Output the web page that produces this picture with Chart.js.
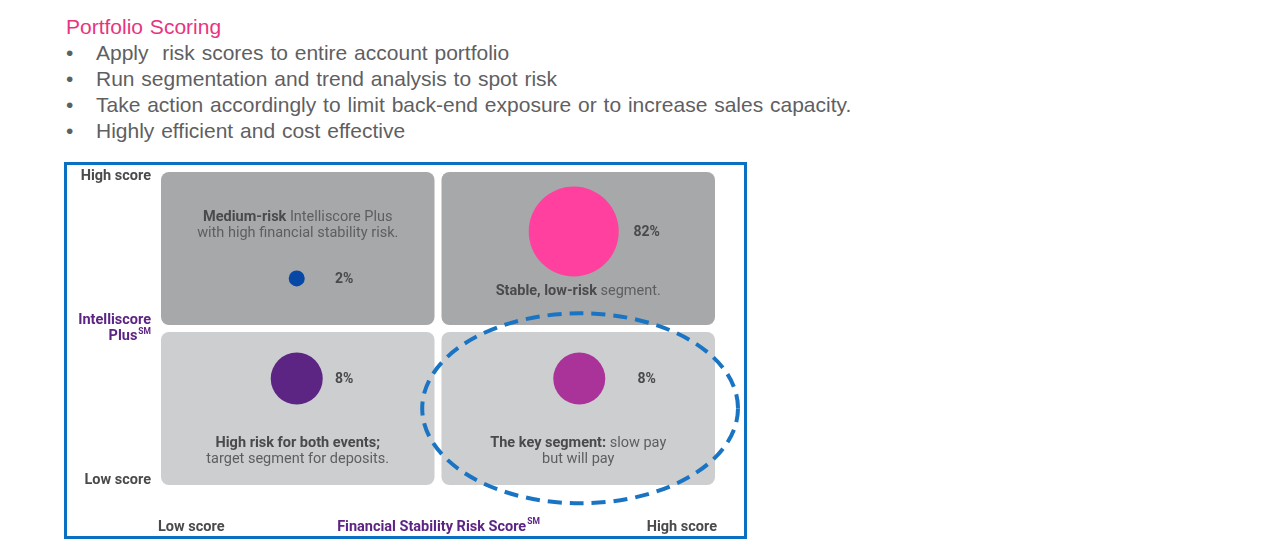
<!DOCTYPE html>
<html>
<head>
<meta charset="utf-8">
<script src="https://cdn.jsdelivr.net/npm/chart.js@4.4.1/dist/chart.umd.min.js"></script>
<style>
  body { margin: 0; background: #fff; width: 1280px; height: 559px; overflow: hidden; position: relative; }
  .head { position: absolute; left: 66px; top: 14px; font-family: "Liberation Sans", Arial, sans-serif; font-size: 21px; line-height: 26px; color: #5F5F62; word-spacing: 1px; }
  .head .title { color: #E8347F; }
  .head .b { display: inline-block; width: 30px; }
  .frame { position: absolute; left: 64px; top: 162px; width: 677px; height: 371px; border: 3px solid #0A70C2; }
  .frame canvas { display: block; }
</style>
</head>
<body>
<div class="head">
  <div class="title">Portfolio Scoring</div>
  <div><span class="b">•</span>Apply&nbsp; risk scores to entire account portfolio</div>
  <div><span class="b">•</span>Run segmentation and trend analysis to spot risk</div>
  <div><span class="b">•</span>Take action accordingly to limit back-end exposure or to increase sales capacity.</div>
  <div><span class="b">•</span>Highly efficient and cost effective</div>
</div>
<div class="frame"><canvas id="grid" width="677" height="371"></canvas></div>
<script>
// segments of the portfolio, one bubble each
const segments = ["Medium-risk", "Stable, low-risk", "High risk for both events", "The key segment"];
const shares = [2, 82, 8, 8]; // % of portfolio
const stabilityPos = [0.49, 1.49, 0.49, 1.51];   // x: Financial Stability Risk Score
const intelliPos = [1.32, 1.62, 0.68, 0.68];     // y: Intelliscore Plus
const scoreTicks = ["Low score", "High score"];

// styles
const bubbleColors = ["#0747A6", "#FF409E", "#5C2483", "#AA3399"];
const bubbleSizes = [8, 45, 26, 26];
const FONT = "Roboto, 'Noto Sans', sans-serif";
const FS = 14.5;

// rich text lines, bold part + normal part
const quadText = [
  { lines: [[["Medium-risk", true], [" Intelliscore Plus", false]], [["with high financial stability risk.", false]]], dy: 45 },
  { lines: [[["Stable, low-risk", true], [" segment.", false]]], dy: 119 },
  { lines: [[["High risk for both events;", true]], [["target segment for deposits.", false]]], dy: 111 },
  { lines: [[["The key segment:", true], [" slow pay", false]], [["but will pay", false]]], dy: 111 }
];

const drawRich = (ctx, parts, cx, y, size) => {
  let w = 0;
  parts.forEach(p => {
    ctx.font = (p[1] ? "bold " : "") + size + "px " + FONT;
    w += ctx.measureText(p[0]).width;
  });
  let x = cx - w / 2;
  parts.forEach(p => {
    ctx.font = (p[1] ? "bold " : "") + size + "px " + FONT;
    ctx.fillStyle = p[1] ? "#4A4A4D" : "#5E5E62";
    ctx.textAlign = "left";
    ctx.fillText(p[0], x, y);
    x += ctx.measureText(p[0]).width;
  });
};

const roundRect = (ctx, x, y, w, h, r) => {
  ctx.beginPath();
  ctx.moveTo(x + r, y);
  ctx.arcTo(x + w, y, x + w, y + h, r);
  ctx.arcTo(x + w, y + h, x, y + h, r);
  ctx.arcTo(x, y + h, x, y, r);
  ctx.arcTo(x, y, x + w, y, r);
  ctx.closePath();
  ctx.fill();
};

// quadrant boxes behind the bubbles
const quadrants = {
  id: "quadrants",
  beforeDatasetsDraw(chart) {
    const { ctx, scales: { x, y } } = chart;
    const g = 3.5;
    const xs = [x.getPixelForValue(0), x.getPixelForValue(1), x.getPixelForValue(2)];
    const ys = [y.getPixelForValue(2), y.getPixelForValue(1), y.getPixelForValue(0)];
    ctx.save();
    for (let r = 0; r < 2; r++) {
      for (let c = 0; c < 2; c++) {
        ctx.fillStyle = r === 0 ? "#A7A8AA" : "#CDCECF";
        const x0 = xs[c] + (c ? g : 0), x1 = xs[c + 1] - (c ? 0 : g);
        const y0 = ys[r] + (r ? g : 0), y1 = ys[r + 1] - (r ? 0 : g);
        roundRect(ctx, x0, y0, x1 - x0, y1 - y0, 8);
      }
    }
    ctx.restore();
  },
  afterDatasetsDraw(chart) {
    const { ctx, chartArea, scales: { x, y } } = chart;
    ctx.save();
    ctx.textBaseline = "middle";
    // segment descriptions + shares
    segments.forEach((s, i) => {
      const c = i % 2, r = i < 2 ? 0 : 1;
      const qx0 = x.getPixelForValue(c) + (c ? 3.5 : 0);
      const qx1 = x.getPixelForValue(c + 1) - (c ? 0 : 3.5);
      const qy0 = y.getPixelForValue(2 - r) + (r ? 3.5 : 0);
      const cx = (qx0 + qx1) / 2;
      quadText[i].lines.forEach((ln, k) => drawRich(ctx, ln, cx, qy0 + quadText[i].dy + k * 16, FS));
      ctx.font = "bold 14px " + FONT;
      ctx.fillStyle = "#4A4A4D";
      ctx.textAlign = "center";
      const lx = qx0 + (qx1 - qx0) * (c ? 0.75 : 0.67);
      ctx.fillText(shares[i] + "%", lx, y.getPixelForValue(intelliPos[i]) + 1);
    });

    // axis labels
    const sup = (txt, sm, px, py, align, color) => {
      ctx.font = "bold " + FS + "px " + FONT;
      const w = ctx.measureText(txt).width;
      ctx.font = "bold 8.5px " + FONT;
      const ws = ctx.measureText(sm).width;
      let x0 = align === "right" ? px - w - ws - 1 : align === "center" ? px - (w + ws) / 2 : px;
      ctx.fillStyle = color;
      ctx.textAlign = "left";
      ctx.font = "bold " + FS + "px " + FONT;
      ctx.fillText(txt, x0, py);
      ctx.font = "bold 8.5px " + FONT;
      ctx.fillText(sm, x0 + w + 1, py - 5);
      ctx.font = "bold " + FS + "px " + FONT;
    };
    ctx.font = "bold " + FS + "px " + FONT;
    ctx.fillStyle = "#4A4A4D";
    ctx.textAlign = "right";
    ctx.fillText(scoreTicks[1], chartArea.left - 10, chartArea.top + 4);
    ctx.fillText(scoreTicks[0], chartArea.left - 10, chartArea.bottom - 5);
    ctx.fillStyle = "#5C2483";
    const mid = y.getPixelForValue(1);
    ctx.fillText("Intelliscore", chartArea.left - 10, mid - 8);
    sup("Plus", "SM", chartArea.left - 10, mid + 8, "right", "#5C2483");

    ctx.fillStyle = "#4A4A4D";
    ctx.textAlign = "left";
    ctx.fillText(scoreTicks[0], chartArea.left - 3, chartArea.bottom + 42);
    ctx.textAlign = "right";
    ctx.fillText(scoreTicks[1], chartArea.right + 2, chartArea.bottom + 42);
    sup("Financial Stability Risk Score", "SM", x.getPixelForValue(1), chartArea.bottom + 42, "center", "#5C2483");

    // dashed ring around the key segment
    const ex = x.getPixelForValue(1.513), ey = y.getPixelForValue(0.49);
    const rx = x.getPixelForValue(0.57) - x.getPixelForValue(0);
    const ry = y.getPixelForValue(0) - y.getPixelForValue(0.607);
    ctx.beginPath();
    ctx.ellipse(ex, ey, rx, ry, 0, 0, Math.PI * 2);
    ctx.setLineDash([14, 8]);
    ctx.lineWidth = 4;
    ctx.strokeStyle = "#1A74C4";
    ctx.stroke();
    ctx.restore();
  }
};

new Chart(document.getElementById("grid"), {
  type: "bubble",
  data: {
    datasets: [{
      label: "Share of portfolio",
      data: segments.map((s, i) => ({ x: stabilityPos[i], y: intelliPos[i], r: bubbleSizes[i] })),
      backgroundColor: bubbleColors,
      borderColor: bubbleColors,
      borderWidth: 0,
      hoverRadius: 0
    }]
  },
  options: {
    responsive: false,
    animation: false,
    devicePixelRatio: 1,
    events: [],
    layout: { autoPadding: false, padding: { left: 94, right: 29, top: 7, bottom: 51 } },
    scales: {
      x: { min: 0, max: 2, display: false },
      y: { min: 0, max: 2, display: false }
    },
    plugins: { legend: { display: false }, tooltip: { enabled: false } }
  },
  plugins: [quadrants]
});
</script>
</body>
</html>
